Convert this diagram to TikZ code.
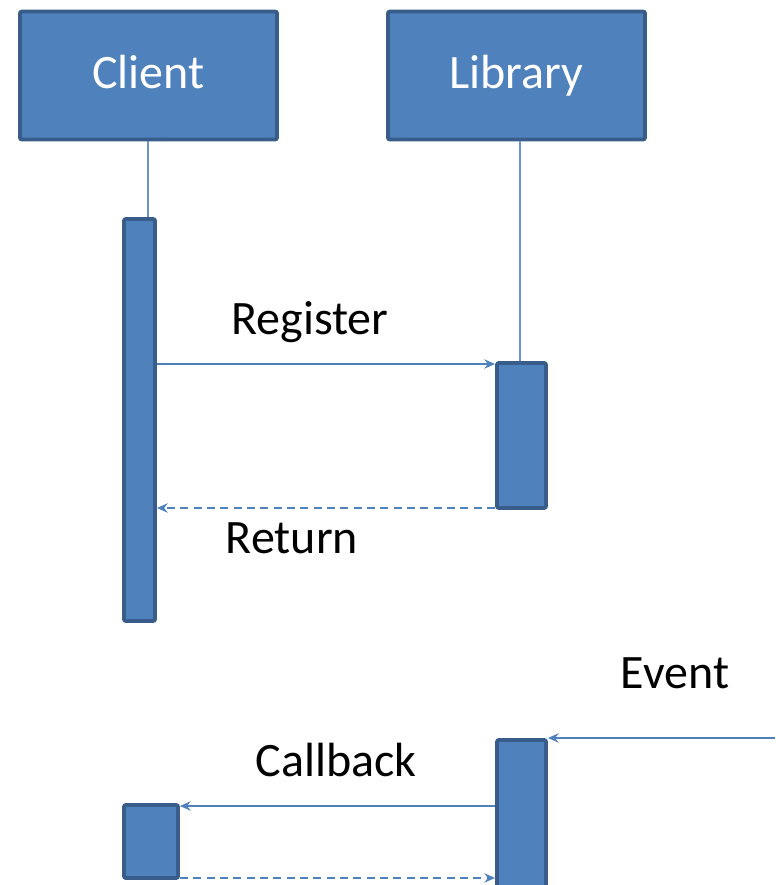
\documentclass[tikz,border=0pt]{standalone}
\usepackage{fontspec}
\setmainfont{Carlito}
\usetikzlibrary{arrows.meta}
\definecolor{accent}{HTML}{4F81BD}
\definecolor{accentdark}{HTML}{385D8A}
\begin{document}
\begin{tikzpicture}[x=0.75pt,y=-0.75pt,
  actor/.style={draw=accentdark,fill=accent,line width=2.9pt,rounded corners=1.5pt,
    minimum width=257*0.75pt,minimum height=128*0.75pt,text=white,font=\fontsize{36}{42}\selectfont,inner sep=0pt},
  activation/.style={draw=accentdark,fill=accent,line width=2.9pt,rounded corners=1.5pt,inner sep=0pt},
  lifeline/.style={draw=accent!85,line width=1.1pt},
  msg/.style={draw=accent,line width=1.5pt,-{Stealth[length=8pt,width=7pt]}},
  reply/.style={msg,dash pattern=on 6pt off 4pt},
  lbl/.style={font=\fontsize{36}{42}\selectfont,inner sep=0pt}]
  \useasboundingbox (0,0) rectangle (775,885);

  % participants
  \node[actor] (client) at (148.5,75.5) {\raisebox{5pt}{Client}};
  \node[actor] (library) at (516.5,75.5) {\raisebox{4pt}{Library}};

  % activation bars
  \node[activation,minimum width=31*0.75pt,minimum height=402*0.75pt] (cact) at (139.5,420) {};
  \node[activation,minimum width=49*0.75pt,minimum height=145*0.75pt] (lact) at (521.5,435.5) {};
  \node[activation,minimum width=49*0.75pt,minimum height=150*0.75pt] (lact2) at (521.5,815) {};
  \node[activation,minimum width=54*0.75pt,minimum height=73*0.75pt] (cact2) at (151,841.5) {};

  % lifelines
  \draw[lifeline] (client.south -| 148,0) -- (cact.north -| 148,0);
  \draw[lifeline] (library.south -| 520,0) -- (lact.north -| 520,0);

  % messages
  \coordinate (evsrc) at (775,738);
  \draw[msg] (cact.east |- 0,364) -- (lact.west |- 0,364);
  \draw[reply] (lact.west |- 0,508) -- (cact.east |- 0,508);
  \draw[msg] (evsrc) -- (lact2.north east |- evsrc);
  \draw[msg] (lact2.west |- 0,806) -- (cact2.east |- 0,806);
  \draw[reply] (cact2.east |- 0,878) -- (lact2.west |- 0,878);

  % labels
  \node[lbl] (lreg) at (310,322) {Register};
  \node[lbl] (lret) at (292,538) {Return};
  \node[lbl] (levt) at (675,673) {Event};
  \node[lbl] (lcb) at (336,760) {Callback};
\end{tikzpicture}
\end{document}
